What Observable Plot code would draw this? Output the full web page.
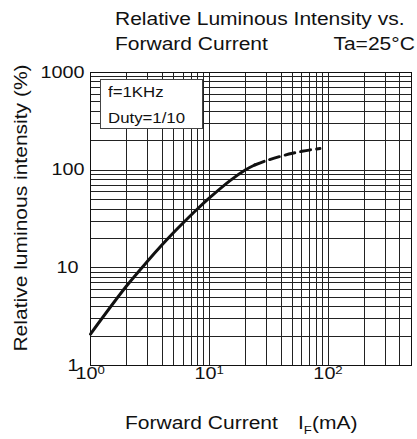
<!DOCTYPE html>
<html>
<head>
<meta charset="utf-8">
<script src="https://cdn.jsdelivr.net/npm/d3@7"></script>
<script src="https://cdn.jsdelivr.net/npm/@observablehq/plot@0.6"></script>
<style>
  html, body { margin: 0; padding: 0; background: #fff; }
  #wrap { position: relative; width: 417px; height: 439px; overflow: hidden; background: #fff;
          font-family: "Liberation Sans", Arial, Helvetica, sans-serif; color: #111; }
  #wrap svg { position: absolute; left: 0; top: 0; }
  .t { position: absolute; white-space: nowrap; }
  .box { position: absolute; background: #fff; border: 1px solid #444; box-sizing: border-box; }
</style>
</head>
<body>
<div id="wrap"></div>
<script>
// ---- data ----
const currentSolid   = [1, 2, 3, 4, 5, 6, 8, 10, 15, 20, 24];
const intensitySolid = [2.1, 6.47, 11.6, 17.2, 23.0, 28.8, 40.5, 52.0, 78.7, 100.5, 113];
const currentDashed   = [24, 30, 40, 50, 65, 85];
const intensityDashed = [113, 125, 139, 149, 158.6, 167];

// ---- grid and tick values ----
const xGridValues = [1, 2, 3, 4, 5, 6, 7, 8, 9, 10, 20, 30, 40, 50, 60, 70, 80, 90, 100, 200, 300, 400, 500];
const yGridValues = [1, 2, 3, 4, 5, 6, 7, 8, 9, 10, 20, 30, 40, 50, 60, 70, 80, 90,
                     100, 200, 300, 400, 500, 600, 700, 800, 900, 1000];
const xDecadeValues = [1, 10, 100];
const xTickBase = ["10", "10", "10"];
const xTickExponents = ["0", "1", "2"];
const yTickValuesUpper = [100, 1000];
const yTickValuesLower = [1, 10];

// ---- texts ----
const titleLine1 = "Relative Luminous Intensity vs.";
const titleLine2 = "Forward Current";
const conditionText = "Ta=25°C";
const legendLines = ["f=1KHz", "Duty=1/10"];
const yLabel = "Relative luminous intensity (%)";
const xLabelMain = "Forward Current";

const solid = currentSolid.map((c, i) => ({current: c, intensity: intensitySolid[i]}));
const dashed = currentDashed.map((c, i) => ({current: c, intensity: intensityDashed[i]}));
const decades = xDecadeValues.map((v, i) => ({v, base: xTickBase[i], exp: xTickExponents[i]}));

const chart = Plot.plot({
  width: 417,
  height: 439,
  marginLeft: 90,
  marginRight: 6,
  marginTop: 72,
  marginBottom: 74,
  style: {fontFamily: '"Liberation Sans", Arial, sans-serif', color: "#111", background: "transparent", overflow: "visible"},
  x: {type: "log", domain: [1, 500], axis: null},
  y: {type: "log", domain: [1, 1000], axis: null},
  marks: [
    Plot.ruleX(xGridValues, {x: d => d, stroke: "#222", strokeWidth: 1, shapeRendering: "crispEdges"}),
    Plot.ruleY(yGridValues, {y: d => d, stroke: "#222", strokeWidth: 1, shapeRendering: "crispEdges"}),
    Plot.frame({stroke: "#111", strokeWidth: 1, shapeRendering: "crispEdges"}),
    Plot.line(solid, {x: "current", y: "intensity", curve: "catmull-rom", stroke: "#111", strokeWidth: 3}),
    Plot.line(dashed, {x: "current", y: "intensity", curve: "catmull-rom", stroke: "#111", strokeWidth: 3, strokeDasharray: "10,6"}),
    Plot.axisY(yTickValuesUpper, {label: null, tickSize: 0, tickPadding: 6, tickFormat: d => String(d), fontSize: 16.5}),
    Plot.axisY(yTickValuesLower, {label: null, tickSize: 0, tickPadding: 12, tickFormat: d => String(d), fontSize: 16.5}),
    Plot.text(decades, {x: "v", text: "base", frameAnchor: "bottom", dy: 13.5, dx: -4, fontSize: 16.5, fill: "#111"}),
    Plot.text(decades, {x: "v", text: "exp", frameAnchor: "bottom", dy: 8.5, dx: 7, textAnchor: "start", fontSize: 11, fill: "#111"})
  ]
});

const wrap = document.getElementById("wrap");
wrap.appendChild(chart);

// widen glyphs like the reference's wide sans face
chart.querySelectorAll("text").forEach(t => {
  const L = t.getComputedTextLength();
  if (L > 0) {
    t.setAttribute("textLength", (L * 1.2).toFixed(2));
    t.setAttribute("lengthAdjust", "spacingAndGlyphs");
  }
});

function addText(html, opts) {
  const d = document.createElement("div");
  d.className = "t";
  d.innerHTML = html;
  const S = opts.size;
  d.style.fontSize = S + "px";
  d.style.lineHeight = S + "px";
  if (opts.left != null) d.style.left = opts.left + "px";
  if (opts.right != null) d.style.right = opts.right + "px";
  d.style.top = (opts.baseline - 0.8465 * S) + "px";
  d.style.transformOrigin = opts.right != null ? "right center" : "left center";
  d.style.transform = "scaleX(1.2)";
  wrap.appendChild(d);
  return d;
}

// title
addText(titleLine1, {left: 115, baseline: 26, size: 17.5});
addText(titleLine2, {left: 115, baseline: 51, size: 17.5});
addText(conditionText, {right: 2, baseline: 51, size: 17.5});

// legend box
const box = document.createElement("div");
box.className = "box";
Object.assign(box.style, {left: "100px", top: "79px", width: "103px", height: "50px"});
wrap.appendChild(box);
addText(legendLines[0], {left: 108, baseline: 97, size: 14});
addText(legendLines[1], {left: 108, baseline: 123, size: 14});

// x label
addText(xLabelMain, {left: 125, baseline: 430, size: 17.5});
addText('I<span style="font-size:11px;position:relative;top:5px;">F</span>(mA)', {left: 298, baseline: 430, size: 17.5});

// y label (rotated)
const yl = document.createElement("div");
yl.className = "t";
yl.textContent = yLabel;
Object.assign(yl.style, {
  fontSize: "17.5px", lineHeight: "17.5px", left: "22px", top: "207.5px",
  transform: "translate(-50%, -50%) rotate(-90deg) scaleX(1.2)", transformOrigin: "center center"
});
wrap.appendChild(yl);
</script>
</body>
</html>
